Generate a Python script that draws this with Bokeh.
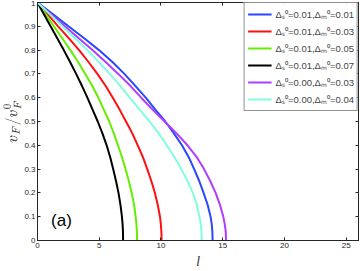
from bokeh.plotting import figure
from bokeh.models import Range1d, LinearAxis, Legend, LegendItem, Label
from bokeh.embed import file_html
from bokeh.resources import INLINE

# Data (v_F / v_F^0 levels and the l value where each curve reaches them)
y_levels = [1.0, 0.95, 0.9, 0.85, 0.8, 0.75, 0.7, 0.65, 0.6, 0.55, 0.5, 0.45,
            0.4, 0.35, 0.3, 0.25, 0.2, 0.15, 0.1, 0.07, 0.04, 0.02, 0.0]

x_s01_m01 = [0.0, 1.26, 2.51, 3.78, 4.98, 6.07, 7.04, 7.92, 8.77, 9.54, 10.35, 11.05,
             11.70, 12.25, 12.69, 13.10, 13.45, 13.78, 14.02, 14.11, 14.16, 14.175, 14.18]
x_s01_m03 = [0.0, 0.84, 1.67, 2.53, 3.37, 4.13, 4.85, 5.51, 6.10, 6.65, 7.17, 7.68,
             8.12, 8.54, 8.89, 9.22, 9.51, 9.74, 9.92, 9.99, 10.03, 10.045, 10.05]
x_s01_m05 = [0.0, 0.66, 1.33, 2.0, 2.66, 3.29, 3.87, 4.43, 4.93, 5.37, 5.81, 6.18,
             6.52, 6.85, 7.13, 7.40, 7.63, 7.82, 7.95, 8.01, 8.05, 8.058, 8.06]
x_s01_m07 = [0.0, 0.53, 1.06, 1.6, 2.13, 2.64, 3.13, 3.6, 4.04, 4.46, 4.88, 5.26,
             5.6, 5.89, 6.13, 6.36, 6.56, 6.72, 6.84, 6.89, 6.92, 6.928, 6.93]
x_s00_m03 = [0.0, 1.11, 2.22, 3.34, 4.45, 5.52, 6.54, 7.52, 8.40, 9.32, 10.30, 11.26,
             12.15, 12.90, 13.49, 13.99, 14.43, 14.78, 15.05, 15.16, 15.24, 15.26, 15.27]
x_s00_m04 = [0.0, 1.01, 2.01, 3.04, 4.05, 4.96, 5.85, 6.70, 7.47, 8.27, 9.08, 9.81,
             10.47, 11.10, 11.65, 12.15, 12.58, 12.90, 13.12, 13.22, 13.28, 13.30, 13.31]

labels = [
    "Δₛ⁰=0.01,Δₘ⁰=0.01",
    "Δₛ⁰=0.01,Δₘ⁰=0.03",
    "Δₛ⁰=0.01,Δₘ⁰=0.05",
    "Δₛ⁰=0.01,Δₘ⁰=0.07",
    "Δₛ⁰=0.00,Δₘ⁰=0.03",
    "Δₛ⁰=0.00,Δₘ⁰=0.04",
]
series = [x_s01_m01, x_s01_m03, x_s01_m05, x_s01_m07, x_s00_m03, x_s00_m04]
colors = ["#2847ff", "#ff1010", "#66ee00", "#000000", "#b03cff", "#80ffe0"]

x_ticks = [0, 5, 10, 15, 20, 25]
y_ticks = [0, 0.1, 0.2, 0.3, 0.4, 0.5, 0.6, 0.7, 0.8, 0.9, 1.0]

p = figure(width=360, height=271, output_backend="svg", toolbar_location=None,
           x_range=Range1d(0, 26), y_range=Range1d(0, 1),
           min_border_left=2, min_border_right=2, min_border_top=2, min_border_bottom=4)
p.grid.visible = False
p.outline_line_color = "#262626"
p.background_fill_color = "white"
p.border_fill_color = "white"

axis_col = "#262626"
for ax in [p.xaxis[0], p.yaxis[0]]:
    ax.major_tick_in = 3
    ax.major_tick_out = 0
    ax.minor_tick_line_color = None
    ax.axis_line_color = axis_col
    ax.major_tick_line_color = axis_col
    ax.major_label_text_font_size = "8px"
    ax.major_label_text_font = "Liberation Sans"
    ax.major_label_text_color = "#262626"
    ax.major_label_standoff = 2
    ax.axis_label_standoff = 0

p.xaxis.ticker = x_ticks
p.yaxis.ticker = y_ticks
p.yaxis.major_label_overrides = {0: "0", 1: "1"}
p.xaxis.axis_label = "l"
p.xaxis.axis_label_text_font = "Liberation Serif"
p.xaxis.axis_label_text_font_style = "italic"
p.xaxis.axis_label_text_font_size = "15px"
p.xaxis.axis_label_standoff = 2
p.yaxis.axis_label = r"$$v_F/v_F^0$$"
p.yaxis.axis_label_text_font_size = "13px"
p.yaxis.axis_label_text_font_style = "normal"

for loc in ["above", "right"]:
    ax = LinearAxis(ticker=(x_ticks if loc == "above" else y_ticks))
    ax.major_tick_in = 3
    ax.major_tick_out = 0
    ax.minor_tick_line_color = None
    ax.major_label_text_font_size = "1px"
    ax.major_label_text_color = None
    ax.major_label_standoff = 0
    ax.axis_line_color = axis_col
    ax.major_tick_line_color = axis_col
    p.add_layout(ax, loc)

items = []
for xs, c, lab in zip(series, colors, labels):
    r = p.line(xs, y_levels, line_color=c, line_width=2)
    items.append(LegendItem(label=lab, renderers=[r]))

legend = Legend(items=items, location="top_right")
legend.label_text_font_size = "9.5px"
legend.label_text_font = "Liberation Sans"
legend.glyph_width = 24
legend.glyph_height = 16
legend.label_height = 16
legend.spacing = 1
legend.padding = 3
legend.margin = 0
legend.label_standoff = 4
legend.border_line_color = "#262626"
p.add_layout(legend)

p.add_layout(Label(x=1.1, y=0.045, text="(a)", text_font_size="17px",
                   text_font="Liberation Sans", text_color="black"))

open("out.html", "w").write(file_html(p, INLINE))
